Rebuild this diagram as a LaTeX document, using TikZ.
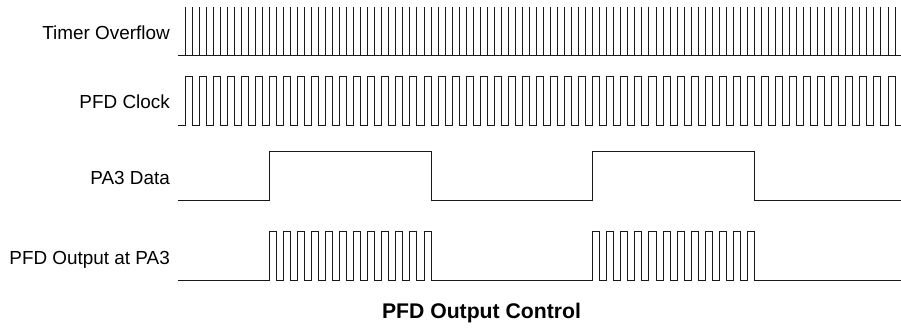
\documentclass[tikz,border=0pt]{standalone}
\usepackage{fontspec}
\setmainfont{Liberation Sans}
\tikzset{
	wave/.style={line width=1pt, draw=black!90, line join=miter},
	siglabel/.style={anchor=base east, inner sep=0pt, font=\fontsize{18.9}{22}\selectfont}
}
\begin{document}
\begin{tikzpicture}[x=1pt, y=-1pt]
    \useasboundingbox (0, 0) rectangle (901, 327);
    \node[siglabel] (timerlabel) at (170, 39) {Timer Overflow};
    \node[siglabel] (clocklabel) at (170, 108.7) {PFD Clock};
    \node[siglabel] (datalabel) at (170, 184) {PA3 Data};
    \node[siglabel] (outputlabel) at (170, 264) {PFD Output at PA3};
    \node[anchor=base, inner sep=0pt, font=\fontsize{21.2}{25}\selectfont\bfseries] (title) at (481.5, 318.3) {PFD Output Control};
    \coordinate (timerstart) at (178, 55.7);
    \coordinate (timerend) at (901, 55.7);
    \coordinate (clockstart) at (178, 125);
    \coordinate (clockend) at (901, 125);
    \coordinate (datastart) at (178, 200);
    \coordinate (dataend) at (901, 200);
    \coordinate (outputstart) at (178, 280);
    \coordinate (outputend) at (901, 280);
    % timer overflow
    \draw[wave] (timerstart) -- (timerend);
    \foreach \n in {0,...,101}
        \draw[wave] ({185+7.03*\n}, 55.7) -- ({185+7.03*\n}, 7);
    % pfd clock
    \draw[wave] (clockstart)
        \foreach \n in {0,...,50} {
            -- ({185+14.06*\n}, 125) -- ({185+14.06*\n}, 76.7)
            -- ({192.03+14.06*\n}, 76.7) -- ({192.03+14.06*\n}, 125)
        } -- (clockend);
    % pa3 data
    \draw[wave] (datastart) -- (269.36, 200) -- (269.36, 151.7) -- (431.05, 151.7) -- (431.05, 200)
        -- (592.74, 200) -- (592.74, 151.7) -- (754.43, 151.7) -- (754.43, 200) -- (dataend);
    % pfd output at pa3
    \draw[wave] (outputstart)
        \foreach \n in {6,...,17} {
            -- ({185+14.06*\n}, 280) -- ({185+14.06*\n}, 231.7)
            -- ({192.03+14.06*\n}, 231.7) -- ({192.03+14.06*\n}, 280)
        }
        \foreach \n in {29,...,40} {
            -- ({185+14.06*\n}, 280) -- ({185+14.06*\n}, 231.7)
            -- ({192.03+14.06*\n}, 231.7) -- ({192.03+14.06*\n}, 280)
        } -- (outputend);
\end{tikzpicture}
\end{document}
